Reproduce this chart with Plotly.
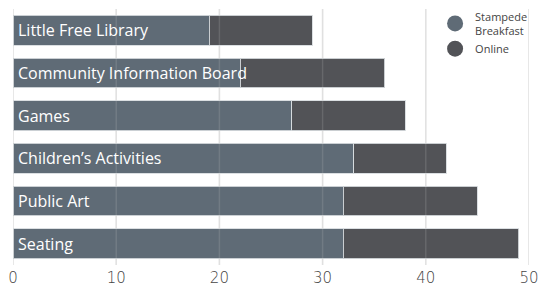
import plotly.graph_objects as go

categories = ["Little Free Library", "Community Information Board", "Games",
              "Children\u2019s Activities", "Public Art", "Seating"]
stampede = [19, 22, 27, 33, 32, 32]
online = [10, 14, 11, 9, 13, 17]
tick_vals = [0, 10, 20, 30, 40, 50]

c_sb = "#5f6b76"
c_on = "#525357"

fig = go.Figure()
fig.add_trace(go.Bar(y=categories, x=stampede, orientation="h", name="Stampede Breakfast",
                     marker=dict(color=c_sb, line=dict(color="rgba(215,219,223,0.9)", width=1)),
                     showlegend=False, hoverinfo="x+y"))
fig.add_trace(go.Bar(y=categories, x=online, orientation="h", name="Online",
                     marker=dict(color=c_on, line=dict(color="rgba(215,219,223,0.9)", width=1)),
                     showlegend=False, hoverinfo="x+y"))
fig.add_trace(go.Scatter(x=[None], y=[None], mode="markers", name="Stampede<br>Breakfast",
                         marker=dict(color=c_sb, size=18, symbol="circle")))
fig.add_trace(go.Scatter(x=[None], y=[None], mode="markers", name="Online",
                         marker=dict(color=c_on, size=18, symbol="circle")))

for cat in categories:
    fig.add_annotation(x=0, y=cat, xref="x", yref="y", text=cat, showarrow=False,
                       xanchor="left", xshift=3,
                       font=dict(family="Open Sans", size=16, color="white"))

for t in tick_vals:
    fig.add_shape(type="line", xref="x", yref="paper", x0=t, x1=t, y0=0, y1=1,
                  line=dict(color="rgba(200,200,200,0.18)", width=1.5), layer="above")
    fig.add_shape(type="line", xref="x", yref="paper", x0=t, x1=t, y0=0, y1=1,
                  line=dict(color="rgba(200,200,200,0.45)", width=1.5), layer="below")

fig.update_layout(
    barmode="stack",
    bargap=0.3,
    width=539, height=287,
    margin=dict(l=13, r=10, t=9, b=22, autoexpand=False),
    plot_bgcolor="white", paper_bgcolor="white",
    xaxis=dict(range=[0, 50], tickvals=tick_vals, showgrid=False, zeroline=False,
               tickfont=dict(family="DejaVu Sans", size=15, color="#444", weight=300),
               ticks="", ticklabelstandoff=2, ticklabeloverflow="allow",
               fixedrange=True, automargin=False),
    yaxis=dict(autorange="reversed", showticklabels=False, showgrid=False, fixedrange=True,
               automargin=False),
    legend=dict(x=0.818, y=1.025, xanchor="left", yanchor="top", bgcolor="rgba(0,0,0,0)",
                font=dict(family="Open Sans", size=11, color="#444"), traceorder="normal",
                itemsizing="trace"),
    showlegend=True,
)

fig.write_html("out.html", config={"displayModeBar": False},
               post_script="document.body.style.margin='0';document.body.style.overflow='hidden';")
